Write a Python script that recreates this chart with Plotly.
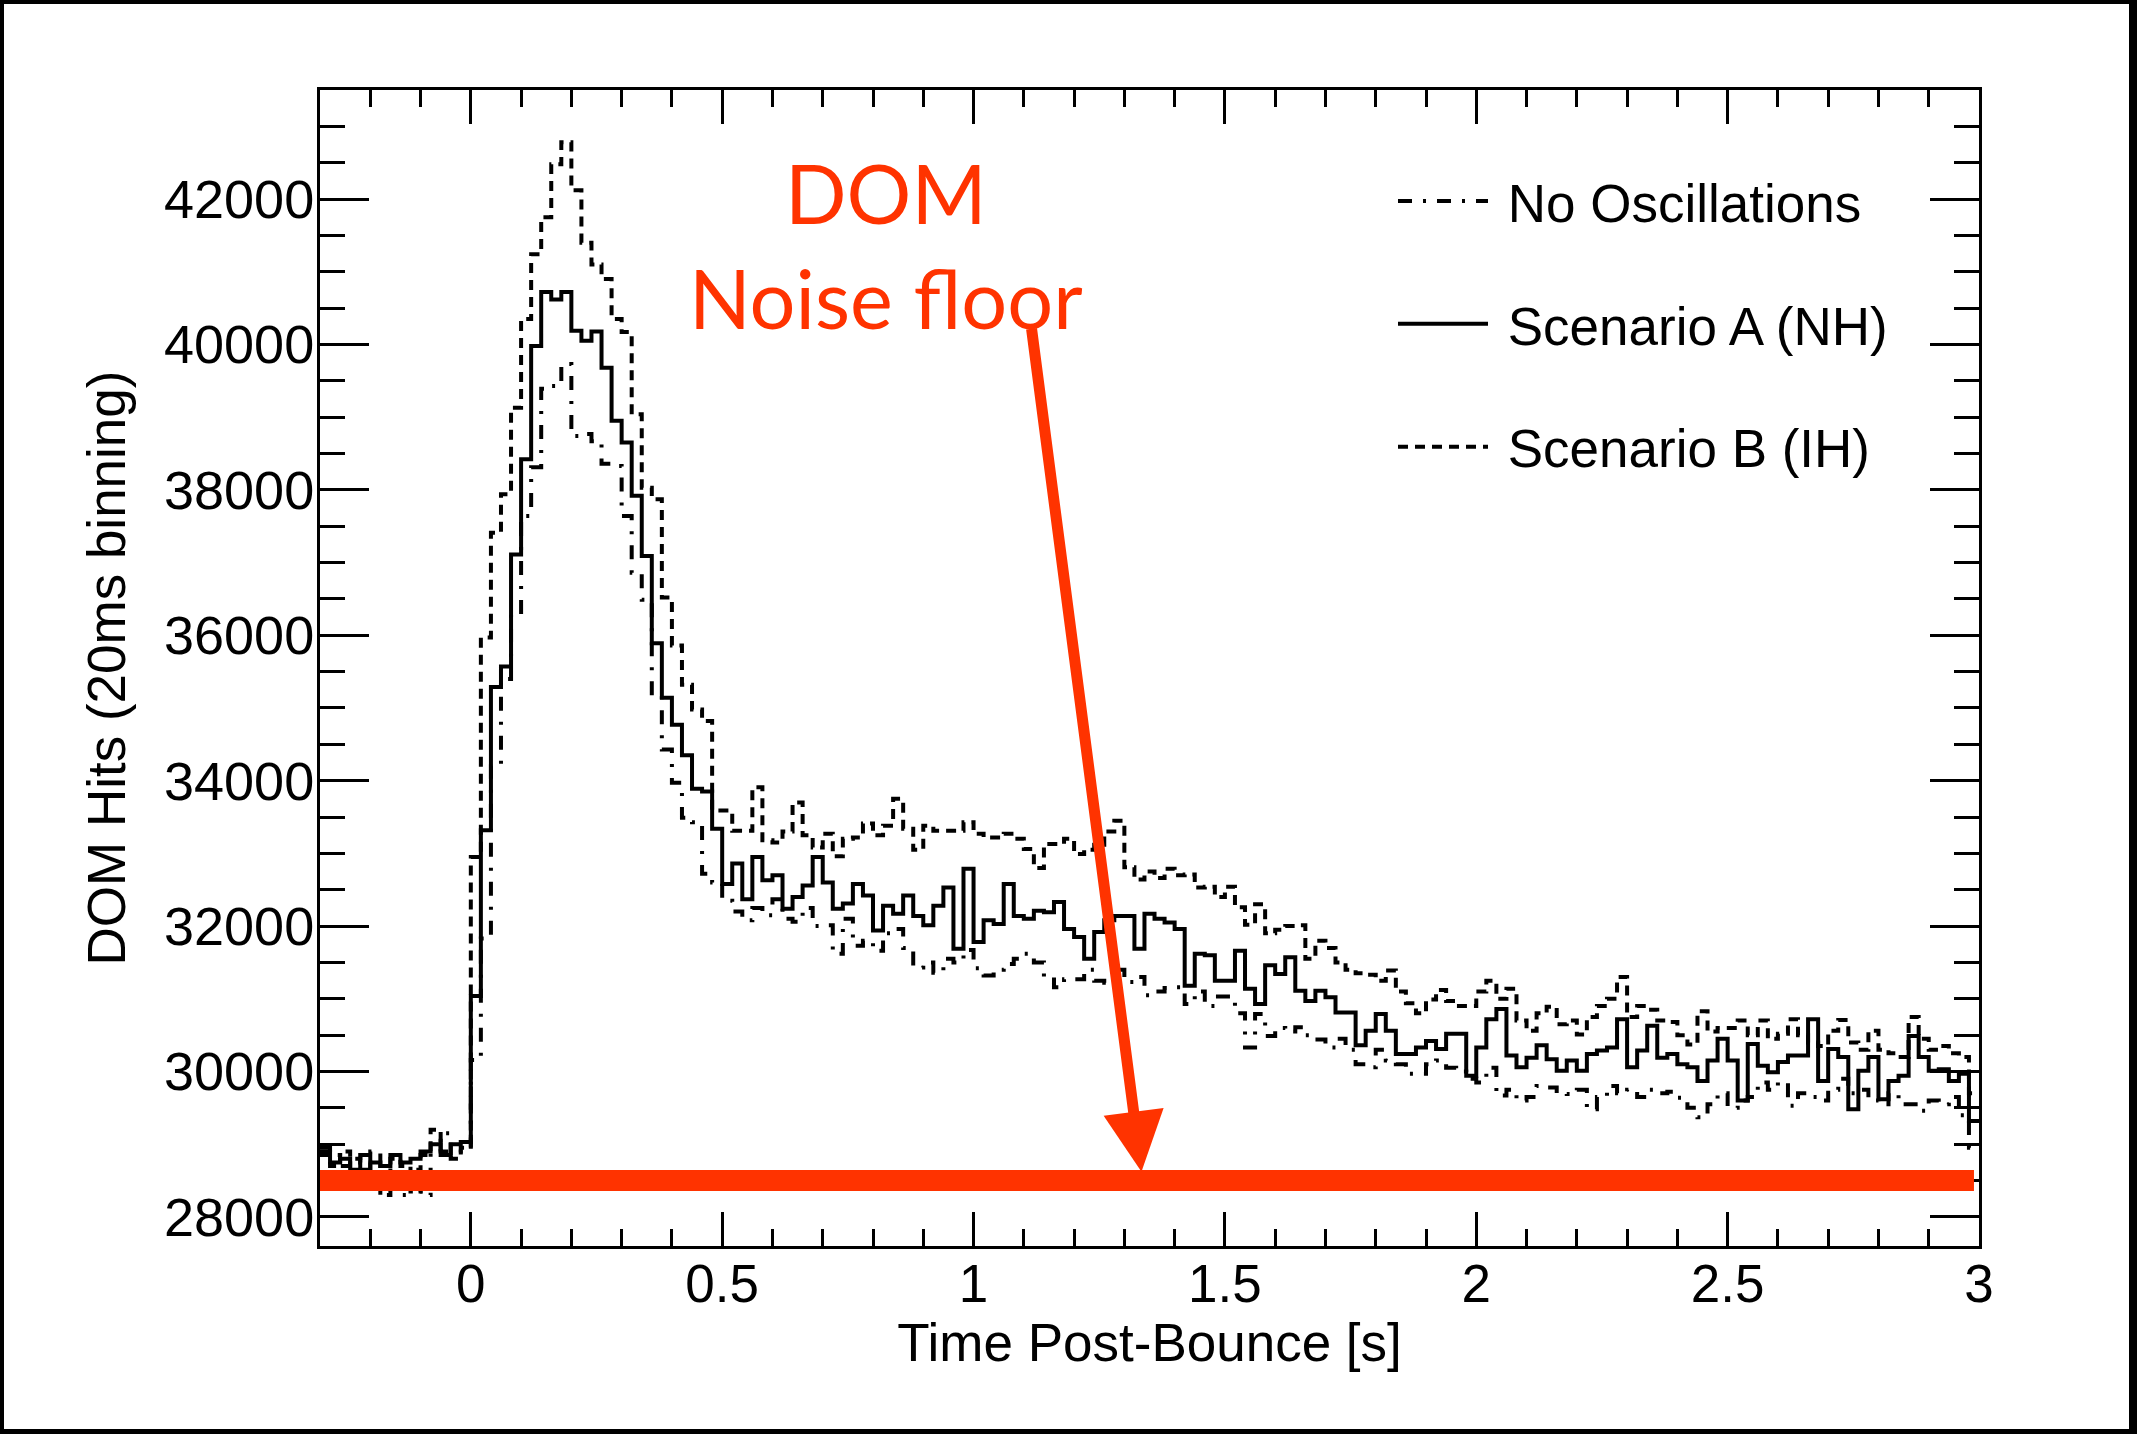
import plotly.graph_objects as go

# ---- data: 20 ms bins starting at t = -0.3 s ----
BIN_START = -0.3
BIN_WIDTH = 0.02
T_END = 3.0

no_osc = [
    28950, 28850, 28700, 28800, 28650, 28900, 28700, 28600, 28300, 28650, 28300, 28900, 29150, 28850, 28900,
    30160, 31830, 34200, 35400, 36290, 37640, 38310, 39390, 39430, 39730,
    38740, 38770, 38670, 38360, 38330, 37640, 36860, 36490, 35170, 34430,
    33970, 33490, 33430, 32720, 32600, 32350, 32200, 32080, 32250, 32150,
    32370, 32100, 32060, 32250, 32000, 32010, 31620, 32100, 31730, 31800,
    31660, 31900, 31960, 31700, 31430, 31500, 31360, 31550, 31500, 31670,
    31420, 31320, 31400, 31480, 31550, 31620, 31500, 31300, 31160, 31270,
    31270, 31400, 31250, 31220, 31400, 31230, 31300, 31050, 31100, 31150,
    31160, 30930, 31100, 30900, 31030, 31030, 30800, 30330, 30790, 30490,
    30600, 30550, 30610, 30500, 30440, 30330, 30450, 30300, 30100, 30060,
    30300, 30150, 30100, 29970, 29970, 30100, 30150, 30050, 30000, 29900,
    29850, 30050, 29670, 29750, 29600, 29650, 29800, 29780, 29700, 29690,
    29750, 29480, 29650, 29800, 29700, 29750, 29650, 29750, 29700, 29720,
    29640, 29500, 29370, 29550, 29700, 29500, 29600, 29650, 29850, 29750,
    29850, 29530, 29700, 29650, 29600, 29750, 29900, 29700, 29750, 29600,
    29550, 29700, 29550, 29550, 29460, 29600, 29550, 29650, 29400, 28950,
]

scenario_a = [
    28900, 28750, 28800, 28650, 28850, 28750, 28700, 28850, 28750, 28800, 28900, 29000, 28850, 29000, 29030,
    31040, 33320, 35290, 35570, 37110, 38420, 39980, 40720, 40620, 40720,
    40190, 40050, 40180, 39680, 38950, 38650, 37920, 37090, 35890, 35140,
    34770, 34350, 33890, 33850, 33340, 32580, 32860, 32370, 32950, 32630,
    32700, 32240, 32400, 32560, 32950, 32600, 32240, 32310, 32580, 32420,
    31940, 32280, 32170, 32420, 32140, 32010, 32280, 32530, 31690, 32790,
    31780, 32080, 32030, 32580, 32140, 32100, 32210, 32190, 32330, 31960,
    31850, 31550, 31920, 32080, 32140, 32140, 31690, 32170, 32100, 32050,
    31960, 31180, 31620, 31600, 31250, 31250, 31660, 31140, 30930, 31460,
    31340, 31570, 31110, 30970, 31110, 31020, 30810, 30810, 30360, 30560,
    30790, 30560, 30240, 30240, 30330, 30420, 30310, 30520, 30520, 29940,
    30330, 30720, 30860, 30220, 30060, 30190, 30360, 30170, 30010, 30150,
    30010, 30240, 30290, 30330, 30720, 30060, 30290, 30630, 30190, 30240,
    30100, 30060, 29870, 30150, 30450, 30150, 29600, 30380, 30080, 29990,
    30130, 30220, 30220, 30720, 29870, 30310, 30200, 29480, 30010, 30200,
    29620, 29870, 29940, 30490, 30200, 30010, 30030, 29870, 29970, 29320,
]

scenario_b = [
    28850, 28700, 28900, 28800, 28750, 28600, 28300, 28800, 28700, 28350, 28850, 29200, 28900, 28800, 28950,
    32950, 35970, 37410, 37940, 39130, 40350, 41240, 41750, 42480, 42780,
    42120, 41400, 41100, 40900, 40350, 40170, 39040, 38030, 37870, 36520,
    35860, 35320, 34980, 34820, 33590, 33590, 33310, 33310, 33910, 33180,
    33150, 33300, 33700, 33250, 33080, 33270, 32960, 33200, 33220, 33410,
    33250, 33380, 33750, 33340, 33050, 33380, 33310, 33310, 33310, 33430,
    33270, 33220, 33220, 33270, 33200, 33060, 32800, 33130, 33130, 33200,
    32990, 33050, 33120, 33300, 33450, 32810, 32640, 32750, 32660, 32790,
    32700, 32710, 32530, 32540, 32400, 32540, 32260, 32020, 32300, 31900,
    31950, 32000, 32010, 31550, 31800, 31700, 31500, 31400, 31350, 31330,
    31250, 31390, 31100, 30940, 30800, 30990, 31120, 30970, 30900, 30900,
    31100, 31250, 31000, 31140, 30700, 30560, 30800, 30890, 30650, 30700,
    30510, 30750, 30900, 31000, 31300, 30750, 30900, 30850, 30700, 30680,
    30500, 30370, 30830, 30550, 30600, 30600, 30700, 30500, 30700, 30450,
    30520, 30720, 30500, 30400, 30350, 30560, 30710, 30400, 30300, 30560,
    30300, 30250, 30200, 30750, 30450, 30300, 30350, 30250, 30200, 29700,
]

series_names = ["No Oscillations", "Scenario A (NH)", "Scenario B (IH)"]
noise_floor = 28500
x_ticks = [0, 0.5, 1, 1.5, 2, 2.5, 3]
y_ticks = [28000, 30000, 32000, 34000, 36000, 38000, 40000, 42000]

RED = "#FF3300"
FONT = "Liberation Sans, Arial, Helvetica, sans-serif"
NBSP = "\u00a0"


def step_xy(values):
    xs = [BIN_START + BIN_WIDTH * i for i in range(len(values))] + [T_END]
    ys = list(values) + [values[-1]]
    return xs, ys


fig = go.Figure()
styles = [
    dict(color="black", width=4, dash="14px,11px,3px,11px"),
    dict(color="black", width=4, dash="solid"),
    dict(color="black", width=4, dash="10px,7px"),
]
for name, vals, st, grp in zip(series_names, [no_osc, scenario_a, scenario_b], styles, ["g1", "g2", "g3"]):
    xs, ys = step_xy(vals)
    fig.add_trace(go.Scatter(x=xs, y=ys, mode="lines", name=NBSP + name, line=st,
                             line_shape="hv", legendgroup=grp))

# noise floor line
fig.add_shape(type="line", xref="x", yref="y", x0=BIN_START, x1=2.99,
              y0=noise_floor, y1=noise_floor, line=dict(color=RED, width=21), layer="above")

# arrow
fig.add_annotation(x=1.334, y=28620, ax=1.115, ay=40236, xref="x", yref="y",
                   axref="x", ayref="y", text="", showarrow=True, arrowhead=2,
                   arrowsize=1.1, arrowwidth=11, arrowcolor=RED, standoff=0)

# label
fig.add_annotation(x=0.825, y=41370, xref="x", yref="y", text="DOM<br>Noise floor",
                   showarrow=False, font=dict(family="Lato", size=81, color=RED),
                   xanchor="center", yanchor="middle", align="center")

# black frame around the picture
W, H = 2137, 1434
ML, MR, MT, MB = 320, 158, 90, 188
PW, PH = W - ML - MR, H - MT - MB


def px(xp):
    return (xp - ML) / PW


def py(yp):
    return 1 - (yp - MT) / PH


for (x0, x1, y0, y1) in [(0, 4, 0, H), (W - 8, W, 0, H), (0, W, 0, 4), (0, W, H - 5, H)]:
    fig.add_shape(type="rect", xref="paper", yref="paper", x0=px(x0), x1=px(x1),
                  y0=py(y1), y1=py(y0), fillcolor="black", line=dict(width=0), layer="above")

axis_common = dict(showline=True, linecolor="black", linewidth=3, mirror="ticks",
                   ticks="inside", tickcolor="black", tickwidth=2.5,
                   showgrid=False, zeroline=False)

fig.update_xaxes(range=[BIN_START, T_END], tickvals=x_ticks, ticklen=34,
                 tickfont=dict(family=FONT, size=53, color="black"),
                 minor=dict(ticks="inside", dtick=0.1, tick0=0, ticklen=17,
                            tickcolor="black", tickwidth=2.5, showgrid=False),
                 title=dict(text="Time Post-Bounce [s]", font=dict(family=FONT, size=53, color="black"),
                            standoff=10),
                 ticklabelstandoff=-11, **axis_common)
fig.update_yaxes(range=[27600, 43500], tickvals=y_ticks, tickformat="d", ticklen=49,
                 tickfont=dict(family=FONT, size=54, color="black"),
                 minor=dict(ticks="inside", dtick=500, tick0=0, ticklen=25,
                            tickcolor="black", tickwidth=2.5, showgrid=False),
                 title=dict(text="DOM Hits (20ms binning)", font=dict(family=FONT, size=53, color="black"),
                            standoff=22),
                 ticklabelstandoff=-8, **axis_common)

fig.update_layout(
    width=W, height=H,
    margin=dict(l=ML, r=MR, t=MT, b=MB, pad=0),
    paper_bgcolor="white", plot_bgcolor="white",
    showlegend=True,
    legend=dict(x=px(1393), y=py(160), xanchor="left", yanchor="top",
                font=dict(family=FONT, size=53, color="black"),
                bgcolor="rgba(0,0,0,0)", borderwidth=0, tracegroupgap=51,
                itemwidth=90),
)

fig.write_html("out.html", config={"displayModeBar": False},
               post_script="document.body.style.margin='0';")
